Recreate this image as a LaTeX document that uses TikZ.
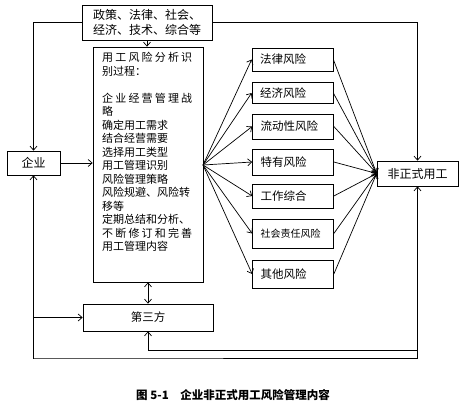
\documentclass[tikz,border=0pt]{standalone}
\usepackage{fontspec}
\setmainfont{Noto Sans CJK SC}
\usetikzlibrary{arrows.meta}
\newcommand\sprdline[1]{\makebox[90pt][s]{#1}}
\begin{document}
\begin{tikzpicture}[x=1pt,y=-1pt,
  box/.style={draw, line width=0.7pt, inner sep=0pt, align=center},
  rbox/.style={draw, line width=0.7pt, inner ysep=0pt, inner xsep=8pt, text width=65pt, align=left, font=\fontsize{11.5}{13}\selectfont},
  arr/.style={-{Straight Barb[length=4pt,width=7pt]}, line width=0.7pt},
  dbl/.style={{Straight Barb[length=4pt,width=7pt]}-{Straight Barb[length=4pt,width=7pt]}, line width=0.7pt},
  ln/.style={line width=0.8pt}]
\useasboundingbox (0,0) rectangle (470,409);

\node[box, minimum width=130pt, minimum height=35pt, font=\fontsize{12}{15}\selectfont] (top) at (147,22.5) {政策、法律、社会、\\经济、技术、综合等};
\node[box, minimum width=110pt, minimum height=235pt] (main) at (148,164.5) {};
\node[anchor=north west, inner sep=0pt, align=left, font=\fontsize{11}{13.5}\selectfont] (maintext) at (102,52)
 {\sprdline{用\hfill 工\hfill 风\hfill 险\hfill 分\hfill 析\hfill 识}\\别过程：\\\mbox{}\\\sprdline{企\hfill 业\hfill 经\hfill 营\hfill 管\hfill 理\hfill 战}\\略\\确定用工需求\\结合经营需要\\选择用工类型\\用工管理识别\\风险管理策略\\风险规避、风险转\\移等\\定期总结和分析、\\\sprdline{不\hfill 断\hfill 修\hfill 订\hfill 和\hfill 完\hfill 善}\\用工管理内容};
\node[box, minimum width=53pt, minimum height=24pt, font=\fontsize{12}{14}\selectfont] (qiye) at (33.5,163) {企业};
\node[box, minimum width=130pt, minimum height=27pt, font=\fontsize{11.5}{14}\selectfont] (third) at (148,317.5) {第三方};
\node[box, minimum width=81pt, minimum height=25pt, font=\fontsize{12}{14}\selectfont] (fz) at (417.5,173.5) {非正式用工};

\node[rbox, minimum height=23pt] (r1) at (292.5,59.5) {法律风险};
\node[rbox, minimum height=21pt] (r2) at (292.5,93) {经济风险};
\node[rbox, minimum height=25pt] (r3) at (293,126.5) {流动性风险};
\node[rbox, minimum height=26pt] (r4) at (293,162) {特有风险};
\node[rbox, minimum height=24pt] (r5) at (293,196) {工作综合};
\node[rbox, minimum height=29pt, font=\fontsize{10}{12}\selectfont] (r6) at (293,233.5) {社会责任风险};
\node[rbox, minimum height=28pt] (r7) at (293,274) {其他风险};

\coordinate (bl) at (33,358);
\coordinate (mid) at (418,350);
\coordinate (fan) at (203,165);

\draw[arr] (top.west) -| (qiye.north);
\draw[arr] (top.east) -| (fz.north);
\draw[arr] (top.south) -- (top.south |- main.north);
\draw[arr] (qiye.east) -- (main.west |- qiye.east);
\draw[dbl] (qiye.south) |- (bl) -| (fz.south);
\draw[arr] (qiye.south |- third.west) -- (third.west);
\draw[arr] (fz.south |- mid) -| (third.south);
\draw[dbl] (main.south) -- (third.north);

\foreach \i in {1,...,7} {
  \draw[arr] (fan) -- (r\i.west);
  \draw[arr] (r\i.east) -- (fz.west);
}

\node[font=\bfseries\fontsize{11.5}{14}\selectfont] (cap) at (233,395) {图 5-1\quad 企业非正式用工风险管理内容};
\end{tikzpicture}
\end{document}
